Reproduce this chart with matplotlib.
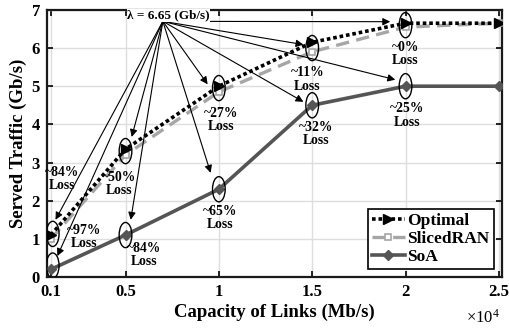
import matplotlib
matplotlib.use("Agg")
import matplotlib.pyplot as plt
from matplotlib.patches import Ellipse

plt.rcParams['font.family'] = ['Liberation Serif', 'DejaVu Serif']
plt.rcParams['font.weight'] = 'bold'
plt.rcParams['mathtext.default'] = 'regular'

# ---- data ----
capacity = [1000, 5000, 10000, 15000, 20000, 25000]
optimal = [1.1, 3.35, 5.0, 6.15, 6.65, 6.65]
sliced = [1.0, 3.2, 4.85, 5.9, 6.55, 6.65]
soa = [0.2, 1.1, 2.3, 4.5, 5.0, 5.0]
xtick_vals = [1000, 5000, 10000, 15000, 20000, 25000]
xtick_labels = ['0.1', '0.5', '1', '1.5', '2', '2.5']
ytick_vals = [0, 1, 2, 3, 4, 5, 6, 7]
loss_texts = ['~84%', '~97%', '~50%', '~84%', '~27%', '~65%', '~11%', '~32%', '~0%', '~25%']
lam_label = 'λ = 6.65 (Gb/s)'

fig = plt.figure(figsize=(5.10, 3.29), dpi=100)
ax = fig.add_axes([0.092, 0.158, 0.892, 0.812])

ax.plot(capacity, sliced, linestyle=(0, (4, 2.2)), color='#a6a6a6', lw=2.4,
        marker='s', ms=4.5, mfc='white', mec='#a6a6a6', mew=1.2, label='SlicedRAN', zorder=3)
ax.plot(capacity, optimal, linestyle=(0, (1, 0.8)), color='black', lw=2.6,
        marker='>', ms=7, mfc='black', mec='black', label='Optimal', zorder=4)
ax.plot(capacity, soa, linestyle='-', color='#555555', lw=2.6,
        marker='D', ms=5.5, mfc='#555555', mec='#555555', label='SoA', zorder=3)

ax.set_xlim(790, 25160)
ax.set_ylim(0, 7)
ax.set_xticks(xtick_vals)
ax.set_xticklabels(xtick_labels)
ax.set_yticks(ytick_vals)
ax.tick_params(direction='in', top=True, right=True, labelsize=12, length=4, width=1.2, pad=5)
for lab in ax.get_xticklabels() + ax.get_yticklabels():
    lab.set_fontweight('bold')
ax.grid(True, color='#dedede', lw=1.0)
ax.set_axisbelow(True)
for s in ax.spines.values():
    s.set_linewidth(1.6)
    s.set_color('#1a1a1a')

ax.set_xlabel('Capacity of Links (Mb/s)', fontsize=13.5, fontweight='bold', labelpad=3)
ax.set_ylabel('Served Traffic (Gb/s)', fontsize=13.5, fontweight='bold', labelpad=3)

fig.text(0.914, 0.033, '×10$^{4}$', fontsize=12, fontweight='normal', ha='left', va='center')

# ellipses
ell_centers = [(1100, 1.13), (1100, 0.3), (5000, 3.3), (5000, 1.1), (10000, 4.95),
               (10000, 2.3), (15000, 6.0), (15000, 4.5), (20000, 6.6), (20000, 5.0)]
for (cx, cy) in ell_centers:
    ax.add_patch(Ellipse((cx, cy), 680, 0.66, fill=False, ec='black', lw=1.0, zorder=5))

# arrows from lambda point
origin = (7000, 6.7)
tips = [(1250, 1.5), (1350, 0.55), (5330, 3.67), (5280, 1.5), (9400, 5.05),
        (9560, 2.73), (14530, 6.09), (14530, 4.59), (19180, 6.69), (19450, 5.17)]
for t in tips:
    ax.annotate('', xy=t, xytext=origin,
                arrowprops=dict(arrowstyle='-|>', color='black', lw=0.8,
                                mutation_scale=11, shrinkA=0, shrinkB=0), zorder=6)

ax.text(7310, 6.86, lam_label, fontsize=9.5, fontweight='bold', ha='center', va='center',
        bbox=dict(fc='white', ec='none', pad=0.3), zorder=7)

# loss labels (same order as loss_texts)
label_pos = [(1590, 2.57), (2760, 1.05), (4640, 2.44), (5970, 0.58), (10140, 4.12),
             (10090, 1.55), (14740, 5.17), (15220, 3.75), (19980, 5.85), (20090, 4.23)]
for txt, (lx, ly) in zip(loss_texts, label_pos):
    ax.text(lx, ly, txt + '\nLoss', fontsize=9.8, fontweight='bold', ha='center', va='center',
            multialignment='center', linespacing=1.05, zorder=7)

leg = ax.legend(handles=[ax.lines[1], ax.lines[0], ax.lines[2]],
                loc='lower right', prop={'weight': 'bold', 'size': 12.5},
                frameon=True, fancybox=False, edgecolor='black', framealpha=1,
                handlelength=1.9, handletextpad=0.15, labelspacing=0.1,
                borderpad=0.25, borderaxespad=0.45)
leg.get_frame().set_linewidth(1.2)

fig.savefig('out.png', dpi=100)
